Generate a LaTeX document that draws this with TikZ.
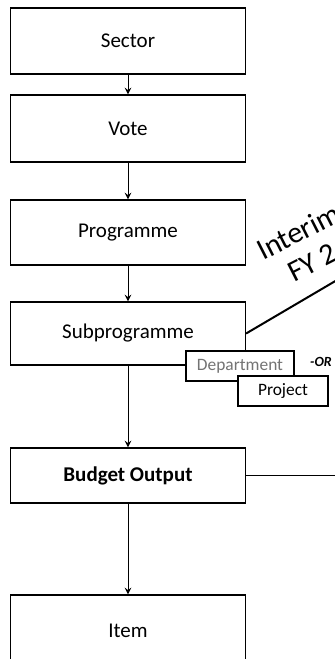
\documentclass[tikz,border=0pt]{standalone}
\usepackage{fontspec}
\setmainfont{Carlito}
\begin{document}
\begin{tikzpicture}
[x=.5pt,y=-.5pt,>=stealth,
every node/.style={font=\fontsize{10.5}{12}\selectfont},
box/.style={rectangle,draw=black,fill=white,line width=.6pt,minimum width=117.5pt},
tag/.style={rectangle,draw=black,fill=white,line width=.6pt,minimum height=15pt,font=\fontsize{8.7}{10}\selectfont}]
\useasboundingbox (0,0) rectangle (335,659);
\def \cx {128} % common centre of the main column
\foreach \nm/\y/\h/\txt in {sector/41/33/Sector, vote/128.5/33.5/Vote, programme/232.5/32.5/Programme, subprogramme/333.5/31.5/Subprogramme, output/475.5/27.5/{\textbf{Budget Output}}, item/631/36/Item}
{
  \node[box,minimum height=\h pt] (\nm) at (\cx,\y) {\txt};
}
\foreach \a/\b in {sector/vote, vote/programme, programme/subprogramme, subprogramme/output, output/item}
{
  \draw[->,line width=.5pt] (\a) to (\b);
}
\node[tag,minimum width=54pt,text=black!55] (department) at (240,366) {Department};
\node[tag,minimum width=45pt] (project) at (283,391) {Project};
\node[font=\fontsize{7}{8}\selectfont\bfseries\itshape] (or) at (321,362) {-OR};
% lines running off the page
\coordinate (interimend) at (400,243);
\coordinate (outputend) at (400,475.5);
\draw[line width=1pt] (subprogramme.east) to (interimend);
\draw[line width=.8pt] (output.east) to (outputend);
\node[rotate=27,anchor=base west,inner sep=0pt,font=\fontsize{15}{17}\selectfont] (interim) at (263,261) {Interim};
\node[rotate=27,anchor=base west,inner sep=0pt,font=\fontsize{15}{17}\selectfont] (fy) at (294,283) {FY 2};
\end{tikzpicture}
\end{document}
